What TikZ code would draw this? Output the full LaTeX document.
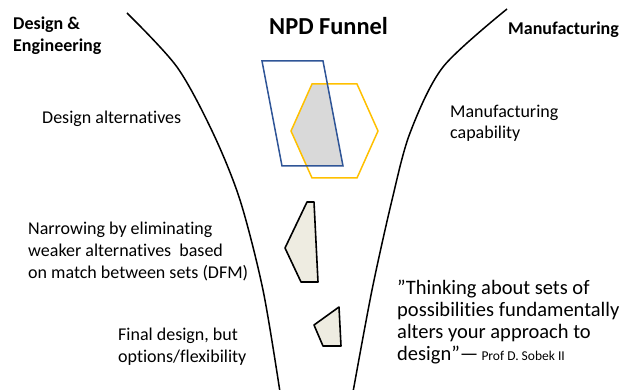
\documentclass[tikz,border=0pt]{standalone}
\usepackage{fontspec}
\setmainfont{Carlito}[Ligatures=NoCommon]
\begin{document}
\begin{tikzpicture}[x=1pt,y=-1pt,
  funnelwall/.style={line width=1.5pt, black},
  settext/.style={anchor=base west, inner sep=0pt, align=left, font=\fontsize{18}{21.7}\selectfont},
  headtext/.style={anchor=base west, inner sep=0pt, align=left, font=\fontsize{18}{22}\selectfont\bfseries},
  pruned/.style={draw=black, line width=1.6pt, fill=beige, line join=round},
]
\definecolor{setblue}{RGB}{47,85,151}
\definecolor{setgold}{RGB}{255,192,0}
\definecolor{overlap}{RGB}{217,217,217}
\definecolor{beige}{RGB}{238,236,225}
\useasboundingbox (0,0) rectangle (621,390);

% funnel walls
\draw[funnelwall] plot[smooth] coordinates {(127,13) (177,67) (213,133) (240,200) (263,290) (280,392)};
\draw[funnelwall] plot[smooth] coordinates {(507,9) (443,67) (410,133) (392,200) (372,290) (353,392)};

% design set and manufacturing set, with their overlap shaded
\begin{scope}
  \clip (262,61) -- (323,61) -- (343,166) -- (282,166) -- cycle;
  \fill[overlap] (291,131) -- (312,84) -- (357,84) -- (378,131) -- (357,178) -- (312,178) -- cycle;
\end{scope}
\draw[setgold, line width=1.5pt] (291,131) -- (312,84) -- (357,84) -- (378,131) -- (357,178) -- (312,178) -- cycle;
\draw[setblue, line width=1.5pt] (262,61) -- (323,61) -- (343,166) -- (282,166) -- cycle;

% narrowed sets
\draw[pruned] (307,202) -- (314,202) -- (318,282) -- (301,282) -- (285,248) -- cycle;
\draw[pruned] (339,307) -- (314,325) -- (323,346) -- (341,346) -- cycle;

% headings (base anchor = baseline of the last line)
\node[headtext] (de) at (13,52) {Design \&\\Engineering};
\node[anchor=base west, inner sep=0pt, font=\fontsize{24.4}{28}\selectfont\bfseries] (title) at (269,35) {NPD Funnel};
\node[headtext] (mfg) at (508,35) {Manufacturing};

% annotations
\node[settext] (alt) at (42,124) {Design alternatives};
\node[settext] (cap) at (450,139) {Manufacturing\\capability};
\node[settext] (narrow) at (28,278) {Narrowing by eliminating\\weaker alternatives\ \ based\\on match between sets (DFM)};
\node[settext] (final) at (118,362) {Final design, but\\options/flexibility};
\node[anchor=base west, inner sep=0pt, align=left, font=\fontsize{20.5}{22}\selectfont] (quote) at (397,360)
  {”Thinking about sets of\\possibilities fundamentally\\alters your approach to\\design”—{\fontsize{13.5}{15}\selectfont\ Prof D. Sobek II}};
\end{tikzpicture}
\end{document}
